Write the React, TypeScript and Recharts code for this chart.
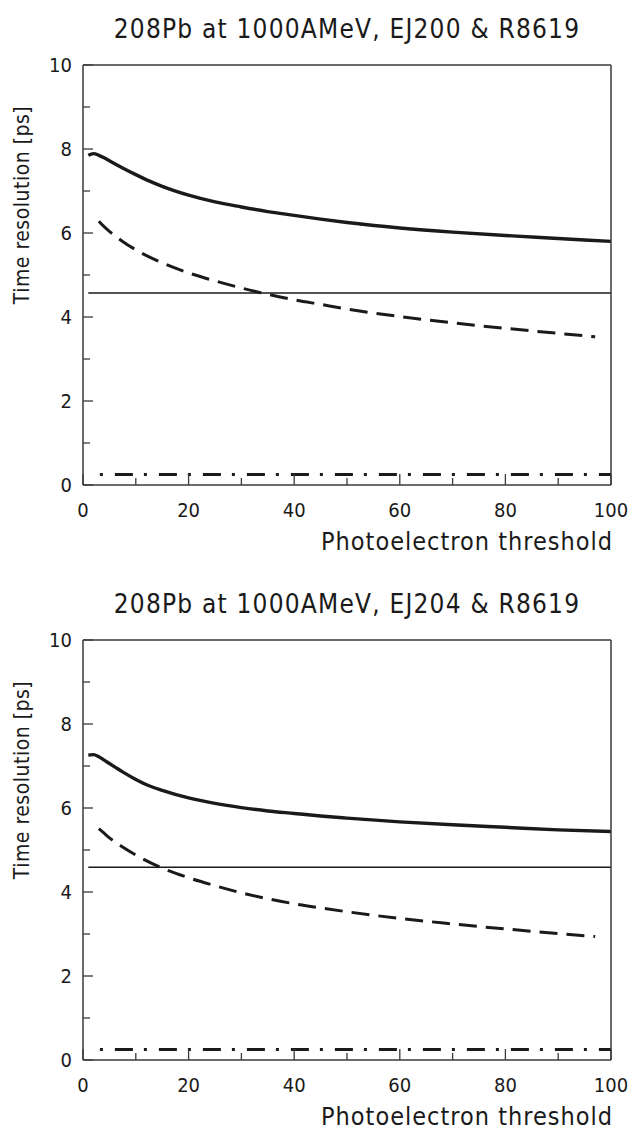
import { LineChart, Line, XAxis, YAxis } from "recharts";

// x positions (photoelectron threshold) and time resolution [ps]
const solidX = [1, 2, 3, 4, 5, 6, 7.5, 10, 12.5, 15, 20, 25, 30, 35, 40, 45, 50, 60, 70, 80, 90, 100];
const ej200Total = [7.85, 7.89, 7.85, 7.79, 7.72, 7.65, 7.55, 7.39, 7.24, 7.11, 6.9, 6.74, 6.62, 6.51, 6.42, 6.33, 6.25, 6.12, 6.02, 5.94, 5.87, 5.8];
const ej204Total = [7.26, 7.27, 7.22, 7.14, 7.06, 6.98, 6.86, 6.68, 6.53, 6.42, 6.24, 6.11, 6.01, 5.93, 5.87, 5.81, 5.76, 5.67, 5.6, 5.54, 5.48, 5.44];

const dashedX = [3, 4, 5, 6, 7.5, 10, 15, 20, 25, 30, 35, 40, 45, 50, 60, 70, 80, 90, 97];
const ej200Dashed = [6.28, 6.15, 6.04, 5.94, 5.8, 5.6, 5.29, 5.05, 4.86, 4.69, 4.54, 4.41, 4.3, 4.19, 4.01, 3.86, 3.73, 3.61, 3.53];
const ej204Dashed = [5.51, 5.4, 5.29, 5.2, 5.07, 4.88, 4.57, 4.34, 4.15, 3.98, 3.84, 3.72, 3.62, 3.53, 3.37, 3.24, 3.12, 3.01, 2.94];

const levelX = [1, 100];
const ej200Level = [4.57, 4.57];
const ej204Level = [4.59, 4.59];

const floorX = [3.2, 100];
const ej200Floor = [0.25, 0.25];
const ej204Floor = [0.25, 0.25];

const xTicks = [0, 10, 20, 30, 40, 50, 60, 70, 80, 90, 100];
const yTicks = [0, 1, 2, 3, 4, 5, 6, 7, 8, 9, 10];

const FONT = "'DejaVu Sans Condensed', 'DejaVu Sans', sans-serif";
const INK = "#1a1a1a";
const AXIS = "#3a3a3a";

const toPoints = (xs: number[], ys: number[]) => xs.map((x, i) => ({ x, y: ys[i] }));

const isMajorX = (v: number) => v % 20 === 0;
const isMajorY = (v: number) => v % 2 === 0;

function BottomTick({ x, y, payload }: any) {
  const major = isMajorX(payload.value);
  return (
    <g>
      <line x1={x} y1={y} x2={x} y2={y - (major ? 11 : 7)} stroke={AXIS} strokeWidth={1.3} />
      {major && (
        <text x={x} y={y + 32} textAnchor="middle" fill={INK} fontSize={20} fontFamily={FONT}>
          {payload.value}
        </text>
      )}
    </g>
  );
}

function TopTick({ x, y, payload }: any) {
  const major = isMajorX(payload.value);
  return <line x1={x} y1={y} x2={x} y2={y + (major ? 11 : 7)} stroke={AXIS} strokeWidth={1.3} />;
}

function LeftTick({ x, y, payload }: any) {
  const major = isMajorY(payload.value);
  return (
    <g>
      <line x1={x} y1={y} x2={x + (major ? 10 : 7)} y2={y} stroke={AXIS} strokeWidth={1.3} />
      {major && (
        <text x={x - 11} y={y + 7} textAnchor="end" fill={INK} fontSize={20} fontFamily={FONT}>
          {payload.value}
        </text>
      )}
    </g>
  );
}

function RightTick({ x, y, payload }: any) {
  const major = isMajorY(payload.value);
  return <line x1={x} y1={y} x2={x - (major ? 10 : 7)} y2={y} stroke={AXIS} strokeWidth={1.3} />;
}

interface PanelProps {
  title: string;
  total: number[];
  dashed: number[];
  level: number[];
  floor: number[];
}

function Panel({ title, total, dashed, level, floor }: PanelProps) {
  return (
    <LineChart width={629} height={575} margin={{ top: 64, right: 17, left: 0, bottom: 0 }}>
      <XAxis
        xAxisId="b"
        dataKey="x"
        type="number"
        domain={[0, 100]}
        ticks={xTicks}
        interval={0}
        height={90}
        tickLine={false}
        tickSize={0}
        tickMargin={0}
        tick={BottomTick}
        axisLine={{ stroke: AXIS, strokeWidth: 1.5 }}
        label={{
          content: ({ viewBox }: any) => (
            <text
              x={viewBox.x + viewBox.width + 2}
              y={viewBox.y + 65}
              textAnchor="end"
              fill={INK}
              fontSize={25}
              fontFamily={FONT}
              style={{ letterSpacing: 1 }}
            >
              Photoelectron threshold
            </text>
          ),
        }}
      />
      <XAxis
        xAxisId="t"
        orientation="top"
        dataKey="x"
        type="number"
        domain={[0, 100]}
        ticks={xTicks}
        interval={0}
        height={1}
        tickLine={false}
        tickSize={0}
        tickMargin={0}
        tick={TopTick}
        axisLine={{ stroke: AXIS, strokeWidth: 1.5 }}
        label={{
          content: ({ viewBox }: any) => (
            <text
              x={viewBox.x + viewBox.width / 2}
              y={viewBox.y - 26}
              textAnchor="middle"
              fill={INK}
              fontSize={26}
              fontFamily={FONT}
              style={{ letterSpacing: 1.2 }}
            >
              {title}
            </text>
          ),
        }}
      />
      <YAxis
        yAxisId="l"
        type="number"
        domain={[0, 10]}
        ticks={yTicks}
        interval={0}
        width={83}
        tickLine={false}
        tickSize={0}
        tickMargin={0}
        tick={LeftTick}
        axisLine={{ stroke: AXIS, strokeWidth: 1.5 }}
        label={{
          content: ({ viewBox }: any) => (
            <text
              x={22}
              y={viewBox.y + 140}
              transform={`rotate(-90 22 ${viewBox.y + 140})`}
              textAnchor="middle"
              dominantBaseline="central"
              fill={INK}
              fontSize={21}
              fontFamily={FONT}
              style={{ letterSpacing: 0.5 }}
            >
              Time resolution [ps]
            </text>
          ),
        }}
      />
      <YAxis
        yAxisId="r"
        orientation="right"
        type="number"
        domain={[0, 10]}
        ticks={yTicks}
        interval={0}
        width={1}
        tickLine={false}
        tickSize={0}
        tickMargin={0}
        tick={RightTick}
        axisLine={{ stroke: AXIS, strokeWidth: 1.5 }}
      />

      <Line
        xAxisId="b"
        yAxisId="l"
        data={toPoints(levelX, level)}
        dataKey="y"
        type="linear"
        stroke={INK}
        strokeWidth={1.5}
        dot={false}
        isAnimationActive={false}
      />
      <Line
        xAxisId="b"
        yAxisId="l"
        data={toPoints(floorX, floor)}
        dataKey="y"
        type="linear"
        stroke={INK}
        strokeWidth={3}
        strokeDasharray="3 12 18 11"
        dot={false}
        isAnimationActive={false}
      />
      <Line
        xAxisId="b"
        yAxisId="l"
        data={toPoints(dashedX, dashed)}
        dataKey="y"
        type="monotone"
        stroke={INK}
        strokeWidth={3}
        strokeDasharray="18 9"
        dot={false}
        isAnimationActive={false}
      />
      <Line
        xAxisId="b"
        yAxisId="l"
        data={toPoints(solidX, total)}
        dataKey="y"
        type="monotone"
        stroke={INK}
        strokeWidth={3.4}
        dot={false}
        isAnimationActive={false}
      />
    </LineChart>
  );
}

export default function App() {
  return (
    <div style={{ position: "absolute", left: 0, top: 0, width: 629, height: 1130, background: "#fff" }}>
      <div style={{ position: "absolute", left: 0, top: 0 }}>
        <Panel title="208Pb at 1000AMeV, EJ200 & R8619" total={ej200Total} dashed={ej200Dashed} level={ej200Level} floor={ej200Floor} />
      </div>
      <div style={{ position: "absolute", left: 0, top: 575 }}>
        <Panel title="208Pb at 1000AMeV, EJ204 & R8619" total={ej204Total} dashed={ej204Dashed} level={ej204Level} floor={ej204Floor} />
      </div>
    </div>
  );
}
